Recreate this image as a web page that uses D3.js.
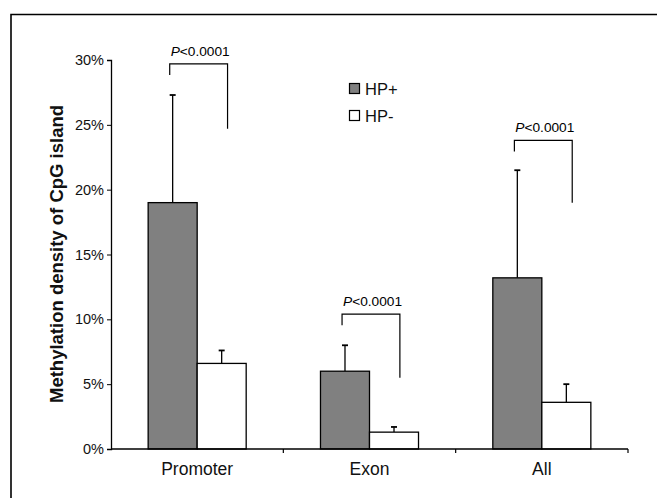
<!DOCTYPE html>
<html>
<head>
<meta charset="utf-8">
<script src="https://cdn.jsdelivr.net/npm/d3@7"></script>
<style>
  body { margin: 0; background: #fff; }
  svg { display: block; font-family: "Liberation Sans", Arial, sans-serif; }
</style>
</head>
<body>
<script>
const categories = ["Promoter", "Exon", "All"];
const series = ["HP+", "HP-"];
const hpPlus = [19.0, 6.0, 13.2];
const hpPlusErr = [27.3, 8.0, 21.5];
const hpMinus = [6.6, 1.3, 3.6];
const hpMinusErr = [7.6, 1.7, 5.0];
const yTicks = [0, 5, 10, 15, 20, 25, 30];
// bracket top, right leg end (in %)
const bracketTop = [29.7, 10.4, 23.8];
const bracketRightEnd = [24.7, 5.5, 19.0];
const pLabel = "<0.0001";

const width = 657, height = 498;
const svg = d3.select("body").append("svg")
    .attr("width", width)
    .attr("height", height);

// outer frame (cut off at right and bottom)
svg.append("path")
    .attr("d", "M11,498V14.5H657")
    .attr("fill", "none")
    .attr("stroke", "#000")
    .attr("stroke-width", 1.6);

const x = d3.scaleBand().domain(categories).range([111, 628]);
const xs = d3.scaleBand().domain(series).range([0, x.bandwidth()]).paddingOuter(0.758);
const y = d3.scaleLinear().domain([0, 30]).range([449, 60]);

const rows = categories.map((c, i) => ({
    cat: c,
    vals: [
        {s: "HP+", v: hpPlus[i], e: hpPlusErr[i]},
        {s: "HP-", v: hpMinus[i], e: hpMinusErr[i]}
    ]
}));
const fill = {"HP+": "#808080", "HP-": "#fff"};

// y axis
const yAxis = svg.append("g")
    .attr("transform", "translate(111,0)")
    .call(d3.axisLeft(y).tickValues(yTicks).tickFormat(d => d + "%").tickSize(4).tickSizeOuter(4).tickPadding(3));
yAxis.select(".domain").attr("stroke-width", 1.3);
yAxis.selectAll("text").attr("font-size", 14.5).attr("fill", "#111")
    .attr("font-family", "Liberation Sans, Arial, sans-serif");

// bars
const g = svg.append("g").selectAll("g").data(rows).join("g")
    .attr("transform", d => `translate(${x(d.cat)},0)`);

g.selectAll("line.err").data(d => d.vals).join("line")
    .attr("class", "err")
    .attr("x1", d => xs(d.s) + xs.bandwidth() / 2)
    .attr("x2", d => xs(d.s) + xs.bandwidth() / 2)
    .attr("y1", d => y(d.v))
    .attr("y2", d => y(d.e))
    .attr("stroke", "#000").attr("stroke-width", 1.3);
g.selectAll("line.cap").data(d => d.vals).join("line")
    .attr("class", "cap")
    .attr("x1", d => xs(d.s) + xs.bandwidth() / 2 - 3)
    .attr("x2", d => xs(d.s) + xs.bandwidth() / 2 + 3)
    .attr("y1", d => y(d.e))
    .attr("y2", d => y(d.e))
    .attr("stroke", "#000").attr("stroke-width", 1.8);

g.selectAll("rect").data(d => d.vals).join("rect")
    .attr("x", d => xs(d.s))
    .attr("width", xs.bandwidth())
    .attr("y", d => y(d.v))
    .attr("height", d => y(0) - y(d.v))
    .attr("fill", d => fill[d.s])
    .attr("stroke", "#000").attr("stroke-width", 1.3);

// x axis
const xAxis = svg.append("g")
    .attr("transform", "translate(0,449)")
    .call(d3.axisBottom(x).tickSize(0).tickPadding(14));
xAxis.select(".domain").attr("stroke-width", 1.3).attr("d", "M111,0H628");
xAxis.selectAll("text").attr("font-size", 17.5).attr("fill", "#111")
    .attr("font-family", "Liberation Sans, Arial, sans-serif");
svg.append("g").selectAll("line").data(categories).join("line")
    .attr("x1", d => x(d) + x.bandwidth()).attr("x2", d => x(d) + x.bandwidth())
    .attr("y1", 449).attr("y2", 453)
    .attr("stroke", "#000").attr("stroke-width", 1.2);

// significance brackets
const br = svg.append("g").selectAll("g").data(categories).join("g");
br.append("path")
    .attr("fill", "none").attr("stroke", "#000").attr("stroke-width", 1.2)
    .attr("d", (d, i) => {
        const x1 = x(d) + xs("HP+") + xs.bandwidth() * 0.44;
        const x2 = x(d) + xs("HP-") + xs.bandwidth() * 0.62;
        const yt = y(bracketTop[i]);
        return `M${x1},${yt + 11}V${yt}H${x2}V${y(bracketRightEnd[i])}`;
    });
const pt = br.append("text")
    .attr("x", d => x(d) + x.bandwidth() / 2 + 3)
    .attr("y", (d, i) => y(bracketTop[i]) - 8)
    .attr("text-anchor", "middle")
    .attr("font-size", 13.7);
pt.append("tspan").attr("font-style", "italic").text("P");
pt.append("tspan").text(pLabel);

// legend
const leg = svg.append("g").attr("transform", "translate(349,83)")
    .selectAll("g").data(series).join("g")
    .attr("transform", (d, i) => `translate(0,${i * 27})`);
leg.append("rect")
    .attr("x", 0.5).attr("y", 0.5).attr("width", 10).attr("height", 10)
    .attr("fill", d => fill[d]).attr("stroke", "#000").attr("stroke-width", 1.2);
leg.append("text")
    .attr("x", 16).attr("y", 11.5)
    .attr("font-size", 16.5).attr("fill", "#111")
    .text(d => d);

// y title
svg.append("text")
    .attr("transform", "translate(63,254) rotate(-90)")
    .attr("text-anchor", "middle")
    .attr("font-weight", "bold")
    .attr("font-size", 18.5)
    .attr("fill", "#111")
    .text("Methylation density of CpG island");
</script>
</body>
</html>
